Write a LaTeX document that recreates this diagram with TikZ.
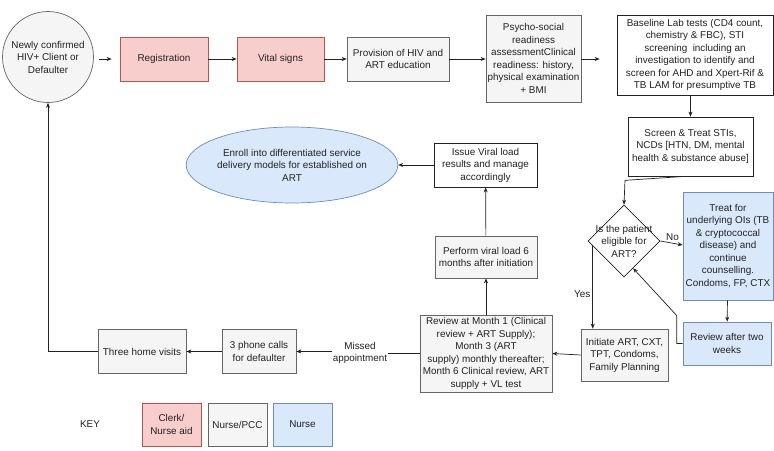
\documentclass[tikz,border=0pt]{standalone}
\usepackage{fontspec}
\setmainfont{Liberation Sans}
\usetikzlibrary{shapes.geometric,arrows.meta,calc}
\definecolor{pinkf}{HTML}{F8CECC}
\definecolor{pinkd}{HTML}{B85450}
\definecolor{grayf}{HTML}{F5F5F5}
\definecolor{grayd}{HTML}{666666}
\definecolor{bluef}{HTML}{DAE8FC}
\definecolor{blued}{HTML}{6C8EBF}
\definecolor{linec}{HTML}{222222}
\definecolor{textc}{HTML}{222222}
\begin{document}
\begin{tikzpicture}[x=1pt,y=-1pt,
  every node/.style={font=\fontsize{9.9}{12.5}\selectfont, align=center, inner sep=1pt, text=textc},
  box/.style={rectangle, draw, line width=0.7pt},
  pinkbox/.style={box, fill=pinkf, draw=pinkd},
  graybox/.style={box, fill=grayf, draw=grayd},
  whitebox/.style={box, fill=white, draw=linec},
  bluebox/.style={box, fill=bluef, draw=blued},
  arr/.style={draw=linec, line width=0.7pt, -{Stealth[length=5pt,width=4pt]}},
  ln/.style={draw=linec, line width=0.7pt}]
\useasboundingbox (0,0) rectangle (774,450);
\fill[white] (0,0) rectangle (774,450);

% top row
\node[circle, fill=grayf, draw=grayd, line width=0.7pt, minimum size=91pt, inner sep=0pt] (circ) at (48,57) {Newly confirmed\\HIV+ Client or\\Defaulter};
\node[pinkbox, minimum width=88pt, minimum height=44pt] (reg) at (164,59) {Registration};
\node[pinkbox, minimum width=87pt, minimum height=44pt] (vit) at (280.5,59) {Vital signs};
\node[graybox, minimum width=102pt, minimum height=44pt] (prov) at (398,59) {Provision of HIV and\\ART education};
\node[graybox, minimum width=95pt, minimum height=87pt] (psy) at (533.5,58.5) {Psycho-social\\readiness\\assessmentClinical\\readiness: history,\\physical examination\\+ BMI};
\node[whitebox, minimum width=156pt, minimum height=80pt] (base) at (695,55) {Baseline Lab tests (CD4 count,\\chemistry \& FBC), STI\\screening\ \ including an\\investigation to identify and\\screen for AHD and Xpert-Rif \&\\TB LAM for presumptive TB};

% right column
\node[whitebox, minimum width=125pt, minimum height=59pt] (scr) at (690.5,146.5) {Screen \& Treat STIs,\\NCDs [HTN, DM, mental\\health \& substance abuse]};
\node[diamond, draw=linec, fill=white, line width=0.7pt, minimum width=72pt, minimum height=72pt, inner sep=0pt] (dia) at (624,241) {};
\node at (dia) {Is the patient\\eligible for\\ART?};
\node[bluebox, minimum width=90pt, minimum height=108pt] (treat) at (728,246) {Treat for\\underlying OIs (TB\\\& cryptococcal\\disease) and\\continue\\counselling.\\Condoms, FP, CTX};
\node[bluebox, minimum width=88pt, minimum height=43pt] (rev2) at (727,343.5) {Review after two\\weeks};
\node[graybox, minimum width=87pt, minimum height=52pt] (init) at (624.5,355) {Initiate ART, CXT,\\TPT, Condoms,\\Family Planning};

% middle column
\node[graybox, minimum width=132pt, minimum height=77pt] (rev) at (486,353.5) {Review at Month 1 (Clinical\\review + ART Supply);\\Month 3 (ART\\supply) monthly thereafter;\\Month 6 Clinical review, ART\\supply + VL test};
\node[graybox, minimum width=102pt, minimum height=42pt] (perf) at (486,257) {Perform viral load 6\\months after initiation};
\node[whitebox, minimum width=103pt, minimum height=44pt] (iss) at (485.5,165) {Issue Viral load\\results and manage\\accordingly};
\node[ellipse, fill=bluef, draw=blued, line width=0.7pt, minimum width=170pt, minimum height=76pt, inner sep=0pt] (enr) at (292,165) {Enroll into differentiated service\\delivery models for established on\\ART};

% bottom row
\node[graybox, minimum width=74pt, minimum height=44pt] (phone) at (259,351.5) {3 phone calls\\for defaulter};
\node[graybox, minimum width=88pt, minimum height=44pt] (home) at (142,351.5) {Three home visits};
\node[fill=white, inner sep=1pt] (miss) at (360,353) {Missed\\appointment};

% key
\node (key) at (90,424) {KEY};
\node[pinkbox, minimum width=59pt, minimum height=43pt] (k1) at (171.5,424.5) {Clerk/\\Nurse aid};
\node[graybox, minimum width=59pt, minimum height=43pt] (k2) at (237.5,424.5) {Nurse/PCC};
\node[bluebox, minimum width=59pt, minimum height=43pt] (k3) at (302.5,424.5) {Nurse};

% connectors
\draw[arr, shorten <=5pt, shorten >=8pt] (circ.east |- reg.west) -- (reg.west);
\draw[arr] (reg) -- (vit);
\draw[arr] (vit) -- (prov);
\draw[arr] (prov.east) -- (psy.west |- prov.east);
\draw[arr, shorten >=17pt] (psy.east |- prov.east) -- (base.west |- prov.east);
\draw[arr] (base.south -| scr.north) -- (scr.north);
\coordinate (bend) at ($(scr.south -| dia.north)+(1,4)$);
\draw[arr] ([xshift=-5pt]scr.south) -- (bend) -- (dia.north);
\draw[arr] (dia.east) -- node[above=1pt, pos=0.5, xshift=1pt] {No} ($(treat.west)+(0,-1)$);
\draw[arr] (treat) -- (rev2);
\coordinate (dtgt) at ($(dia.south)!0.25!(dia.east)$);
\draw[arr] (rev2.west) -- ++(-6,0) |- ++(0,-28) -- (dtgt);
\coordinate (ystart) at ($(dia.west)!0.14!(dia.south)$);
\draw[arr] (ystart) -- node[left=1pt, pos=0.58] {Yes} (ystart |- init.north);
\draw[arr] (init.west) -- (rev.east);
\draw[arr] (rev) -- (perf);
\draw[arr] (perf) -- (iss);
\draw[arr] (iss) -- (enr);
\draw[ln] (rev.west |- miss.east) -- (miss.east);
\draw[arr] (miss.west |- phone.east) -- (phone.east);
\draw[arr] (phone) -- (home);
\draw[arr] (home.west) -- (circ.south |- home.west) -- (circ.south);
\end{tikzpicture}
\end{document}
